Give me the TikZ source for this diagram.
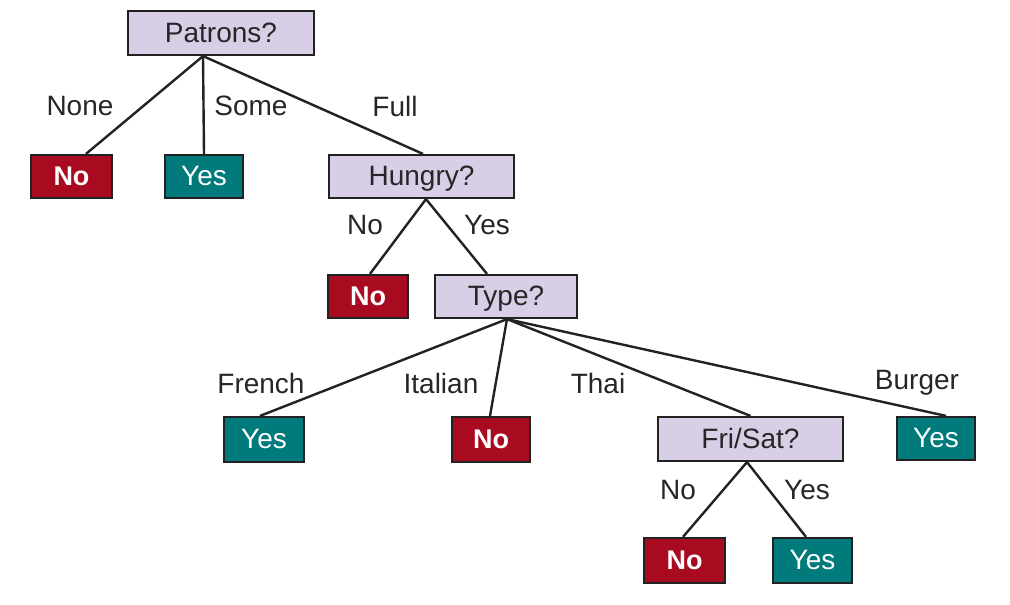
\documentclass[tikz,border=0pt]{standalone}
\usepackage{fontspec}
\setmainfont{Liberation Sans}
\definecolor{qfill}{HTML}{D8CFE7}
\definecolor{nofill}{HTML}{A80A1F}
\definecolor{yesfill}{HTML}{007A7B}
\definecolor{edge}{HTML}{222222}
\begin{document}
\begin{tikzpicture}[x=1pt,y=-1pt,
  box/.style={draw=edge,line width=2.2pt,inner sep=0pt,text height=22pt,text depth=4pt,font=\fontsize{28}{32}\selectfont},
  qbox/.style={box,fill=qfill,text=black!85},
  nobox/.style={box,fill=nofill,text=white,font=\fontsize{27}{32}\selectfont\bfseries},
  yesbox/.style={box,fill=yesfill,text=white},
  lbl/.style={font=\fontsize{28}{32}\selectfont,text=black!85,inner sep=0pt},
  br/.style={draw=edge,line width=2.4pt}]
\useasboundingbox (0,0) rectangle (1010,605);
% nodes
\node[qbox,minimum width=186pt,minimum height=44pt] (pat) at (221,33) {Patrons?};
\node[nobox,minimum width=81pt,minimum height=43pt] (no1) at (71.5,176.5) {No};
\node[yesbox,minimum width=78pt,minimum height=43pt] (yes1) at (204,176.5) {Yes};
\node[qbox,minimum width=185pt,minimum height=43pt] (hun) at (421.5,176.5) {Hungry?};
\node[nobox,minimum width=80pt,minimum height=43pt] (no2) at (368,296.5) {No};
\node[qbox,minimum width=142pt,minimum height=43pt] (typ) at (506,296.5) {Type?};
\node[yesbox,minimum width=80pt,minimum height=45pt] (yfr) at (264,439.5) {Yes};
\node[nobox,minimum width=78pt,minimum height=45pt] (nit) at (491,439.5) {No};
\node[qbox,minimum width=185pt,minimum height=44pt] (fri) at (750.5,439) {Fri/Sat?};
\node[yesbox,minimum width=78pt,minimum height=43pt] (ybu) at (936,438.5) {Yes};
\node[nobox,minimum width=81pt,minimum height=45pt] (no3) at (684.5,560.5) {No};
\node[yesbox,minimum width=79pt,minimum height=45pt] (yes3) at (812.5,560.5) {Yes};
% branches
\draw[br] ([xshift=-18pt]pat.south) -- ([xshift=14.5pt]no1.north);
\draw[br] ([xshift=-18pt]pat.south) -- (yes1.north);
\draw[br] ([xshift=-18pt]pat.south) -- ([xshift=1.5pt]hun.north);
\draw[br] ([xshift=4.5pt]hun.south) -- ([xshift=2pt]no2.north);
\draw[br] ([xshift=4.5pt]hun.south) -- ([xshift=-19pt]typ.north);
\draw[br] ([xshift=1pt]typ.south) -- ([xshift=-4pt]yfr.north);
\draw[br] ([xshift=1pt]typ.south) -- ([xshift=-1pt]nit.north);
\draw[br] ([xshift=1pt]typ.south) -- (fri.north);
\draw[br] ([xshift=1pt]typ.south) -- ([xshift=10pt]ybu.north);
\draw[br] ([xshift=-3.5pt]fri.south) -- ([xshift=-1.5pt]no3.north);
\draw[br] ([xshift=-3.5pt]fri.south) -- ([xshift=-6.5pt]yes3.north);
% labels
\node[lbl] (lnone) at (80,106) {None};
\node[lbl] (lsome) at (251,106) {Some};
\node[lbl] (lfull) at (395,106) {Full};
\node[lbl] (lhno) at (365,225) {No};
\node[lbl] (lhyes) at (487,225) {Yes};
\node[lbl] (lfr) at (261,383) {French};
\node[lbl] (lit) at (441,383) {Italian};
\node[lbl] (lth) at (598,383) {Thai};
\node[lbl] (lbu) at (917,383) {Burger};
\node[lbl] (lfno) at (678,490) {No};
\node[lbl] (lfyes) at (807,490) {Yes};
\end{tikzpicture}
\end{document}
